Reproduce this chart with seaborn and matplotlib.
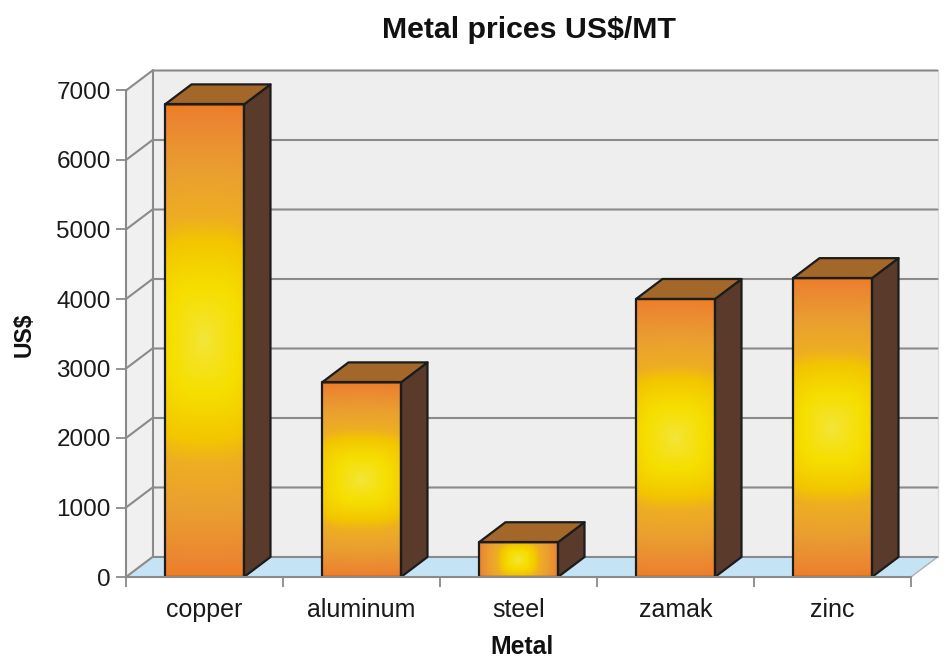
import numpy as np
import pandas as pd
import matplotlib
matplotlib.use("Agg")
import matplotlib.pyplot as plt
from matplotlib.colors import LinearSegmentedColormap
from matplotlib.patches import Polygon
import seaborn as sns

metals = ["copper", "aluminum", "steel", "zamak", "zinc"]
prices = [6800, 2800, 500, 4000, 4300]
y_ticks = [0, 1000, 2000, 3000, 4000, 5000, 6000, 7000]
title_text = "Metal prices US$/MT"
x_title = "Metal"
y_title = "US$"

sns.set_theme(style="white")
plt.rcParams["font.family"] = ["Liberation Sans", "DejaVu Sans"]

W, H = 944, 661
fig = plt.figure(figsize=(W / 100, H / 100), dpi=100, facecolor="white")
L, R, B, T = 126, 911, 577, 90.5
ax = fig.add_axes([L / W, 1 - B / H, (R - L) / W, (B - T) / H])
ax.patch.set_visible(False)

df = pd.DataFrame({"metal": metals, "price": prices})
sns.barplot(data=df, x="metal", y="price", ax=ax, width=0.503, color="#F0A030",
            saturation=1, edgecolor="#1c1c1c", linewidth=1.6)

x_lo, x_hi = -0.5, len(metals) - 0.5
y_lo, y_hi = 0, y_ticks[-1]
DX = 26.5 / (R - L) * (x_hi - x_lo)
DY = 20 / (B - T) * (y_hi - y_lo)
GRAY = "#8a8a8a"

def poly(pts, fc, ec="none", lw=0, z=1):
    ax.add_patch(Polygon(pts, closed=True, facecolor=fc, edgecolor=ec, linewidth=lw,
                         zorder=z, clip_on=False, joinstyle="round"))

# walls and floor
poly([(x_lo + DX, DY), (x_hi + DX, DY), (x_hi + DX, y_hi + DY), (x_lo + DX, y_hi + DY)], "#eeeeee", z=0.5)
poly([(x_lo, 0), (x_lo + DX, DY), (x_lo + DX, y_hi + DY), (x_lo, y_hi)], "#f0f0f0", z=0.5)
poly([(x_lo, 0), (x_hi, 0), (x_hi + DX, DY), (x_lo + DX, DY)], "#c4e4f6", z=0.6)

# grid lines on the walls
for v in y_ticks:
    ax.plot([x_lo, x_lo + DX, x_hi + DX], [v, v + DY, v + DY], color=GRAY, lw=1.5,
            zorder=0.8, clip_on=False, solid_joinstyle="miter")
ax.plot([x_lo + DX, x_lo + DX], [DY, y_hi + DY], color=GRAY, lw=1.5, zorder=0.8, clip_on=False)
ax.plot([x_hi, x_hi + DX], [0, DY], color="#b0b0b0", lw=1.0, zorder=0.7, clip_on=False)
ax.plot([x_hi + DX, x_hi + DX], [DY, y_hi + DY], color="#dcdcdc", lw=1.0, zorder=0.7, clip_on=False)

# gradient for the bar faces
cmap = LinearSegmentedColormap.from_list("metal", [
    (0.00, "#f3e63a"), (0.08, "#f5e222"), (0.22, "#f6df00"), (0.42, "#f3c600"),
    (0.52, "#eeae22"), (0.72, "#ea9f30"), (0.95, "#ec8432"), (1.00, "#f07e22")])
px_per_val = (B - T) / (y_hi - y_lo)

for patch in ax.patches:
    if isinstance(patch, Polygon):
        continue
    x0, w, h = patch.get_x(), patch.get_width(), patch.get_height()
    x1 = x0 + w
    h_px = h * px_per_val
    ku = 0.2 + 0.75 * (35 / h_px) ** 0.94
    kv = min(1.0, h_px / 70)
    u, v = np.meshgrid(np.linspace(-1, 1, 120), np.linspace(-1, 1, 240))
    t = np.clip(((kv * np.abs(v)) ** 3 + (ku * np.abs(u)) ** 3) ** (1 / 3), 0, 1)
    im = ax.imshow(t, cmap=cmap, vmin=0, vmax=1, extent=[x0, x1, 0, h], aspect="auto",
                   zorder=3, interpolation="bilinear")
    patch.set_facecolor("none")
    patch.set_zorder(4)
    patch.set_joinstyle("round")
    im.set_clip_path(patch)
    poly([(x1, 0), (x1 + DX, DY), (x1 + DX, h + DY), (x1, h)], "#5a3a2a", "#1c1c1c", 1.6, z=3.5)
    poly([(x0, h), (x1, h), (x1 + DX, h + DY), (x0 + DX, h + DY)], "#a4672a", "#1c1c1c", 1.6, z=3.5)

ax.set_xlim(x_lo, x_hi)
ax.set_ylim(y_lo, y_hi)

for side in ("top", "right"):
    ax.spines[side].set_visible(False)
for side in ("left", "bottom"):
    ax.spines[side].set_color(GRAY)
    ax.spines[side].set_linewidth(1.5)
    ax.spines[side].set_zorder(5)

ax.set_yticks(y_ticks)
ax.tick_params(axis="y", which="major", length=7, width=1.3, color=GRAY, pad=4,
               labelsize=17.5, labelcolor="#1a1a1a", left=True)
ax.set_xticks(range(len(metals)))
ax.set_xticklabels(metals)
ax.set_xticks(np.arange(x_lo, x_hi + 1), minor=True)
ax.tick_params(axis="x", which="major", length=0, pad=15, labelsize=18, labelcolor="#1a1a1a")
ax.tick_params(axis="x", which="minor", length=7.5, width=1.3, color=GRAY, bottom=True)

ax.set_xlabel("")
ax.set_ylabel("")
fig.text(522.5 / W, 1 - 654.5 / H, x_title, ha="center", va="baseline", fontsize=17.8,
         fontweight="bold", color="#111111")
fig.text(24 / W, 1 - 335 / H, y_title, ha="center", va="center", rotation=90, fontsize=16.5,
         fontweight="bold", color="#111111")
fig.text(528.5 / W, 1 - 38 / H, title_text, ha="center", va="baseline", fontsize=21.8,
         fontweight="bold", color="#111111")

fig.savefig("out.png", dpi=100)
